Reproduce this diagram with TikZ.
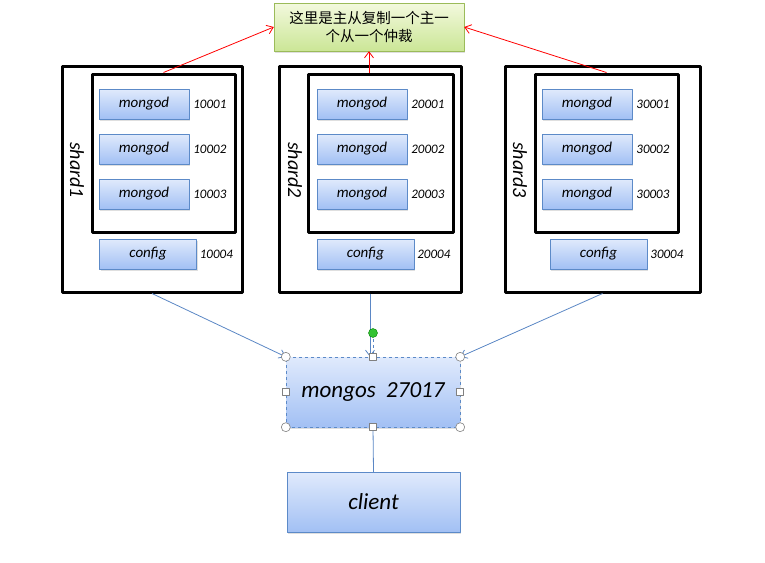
\documentclass[tikz,border=0pt]{standalone}
\usepackage{fontspec}
\setmainfont{Carlito}
\newfontfamily\cjk{Noto Sans CJK SC}
\usetikzlibrary{arrows.meta,shadows}
\definecolor{boxtop}{HTML}{E0EAFC}
\definecolor{boxbot}{HTML}{A2C0F4}
\definecolor{boxline}{HTML}{5C8AC8}
\definecolor{notetop}{HTML}{F3F9DE}
\definecolor{notebot}{HTML}{CBE696}
\definecolor{noteline}{HTML}{9BBB59}
\definecolor{linkblue}{HTML}{5B87C5}
\begin{document}
\begin{tikzpicture}[x=1pt,y=-1pt, line join = round,
	mbox/.style={draw=boxline, top color=boxtop, bottom color=boxbot, inner sep=0pt, font=\itshape\fontsize{15}{18}\selectfont, drop shadow={opacity=0.25, shadow xshift=1pt, shadow yshift=-1.5pt}},
	port/.style={anchor=west, inner sep=0pt, font=\itshape\fontsize{13}{15}\selectfont},
	shardbox/.style={draw, line width=3pt, inner sep=0pt},
	rep/.style={red, line width=0.8pt, -{Straight Barb[length=6pt,width=9pt]}},
	link/.style={linkblue, line width=0.8pt, -{Straight Barb[length=6pt,width=9pt]}},
	handle/.style={draw=gray, fill=white, line width=0.6pt}]
	\useasboundingbox (0,0) rectangle (765,562);
	% top note
	\node[draw=noteline, top color=notetop, bottom color=notebot, minimum width=190pt, minimum height=48pt, align=center, font=\cjk\fontsize{14.5}{18}\selectfont, drop shadow={opacity=0.25, shadow xshift=1pt, shadow yshift=-1.5pt}] (note) at (369,27) {这里是主从复制一个主一\\个从一个仲裁};
	% shards
	\foreach \i/\ox/\ow/\ix/\iw/\mx/\cx/\lx in {1/152/180/163.5/143/144/148/77, 2/370/182/380.5/145/362/365.5/295, 3/602.5/195/606.5/143/587/598.5/520}{
		\node[shardbox, minimum width=\ow pt, minimum height=226pt] (shard\i) at (\ox,179) {};
		\node[shardbox, minimum width=\iw pt, minimum height=158pt] (set\i) at (\ix,153) {};
		\foreach \k/\y in {1/104, 2/149, 3/194}{
			\node[mbox, minimum width=90pt, minimum height=30pt] (md\i-\k) at (\mx,\y) {mongod};
			\node[port] (p\i-\k) at ([xshift=4pt]md\i-\k.east) {\i000\k};
		}
		\node[mbox, minimum width=97pt, minimum height=30pt] (cfg\i) at (\cx,254) {config};
		\node[port] (pc\i) at ([xshift=3pt]cfg\i.east) {\i0004};
		\node[rotate=-90, font=\itshape\fontsize{20}{24}\selectfont] (lbl\i) at (\lx,170) {shard\i};
	}
	% mongos and client
	\node[mbox, dashed, minimum width=174pt, minimum height=70pt, font=\itshape\fontsize{23}{27}\selectfont] (mongos) at (373,392) {mongos\ \ 27017};
	\node[mbox, minimum width=173pt, minimum height=60pt, font=\itshape\fontsize{23}{27}\selectfont] (client) at (373.5,502) {client};
	% replication arrows
	\draw[rep] (set1.north) -- (note.west);
	\draw[rep] (note.south |- set2.north) -- (note.south);
	\draw[rep] (set3.north) -- (note.east);
	% links to mongos
	\draw[link] (shard1.south) -- (mongos.north west);
	\draw[link] (shard2.south) -- (shard2.south |- mongos.north);
	\draw[link] (shard3.south) -- (mongos.north east);
	\draw[linkblue, line width=0.8pt] (mongos.south) -- (client.north);
	% selection handles
	\coordinate (rot) at (373,333);
	\draw[linkblue, dashed] (rot) -- (mongos.north);
	\draw[fill=green!70!black!80, draw=green!50!black] (rot) circle (4.5pt);
	\foreach \a in {north west, north east, south west, south east}
		\draw[handle] (mongos.\a) circle (4.5pt);
	\foreach \a in {north, south, west, east}
		\draw[handle] ([xshift=-3.5pt,yshift=-3.5pt]mongos.\a) rectangle +(7pt,7pt);
\end{tikzpicture}
\end{document}
